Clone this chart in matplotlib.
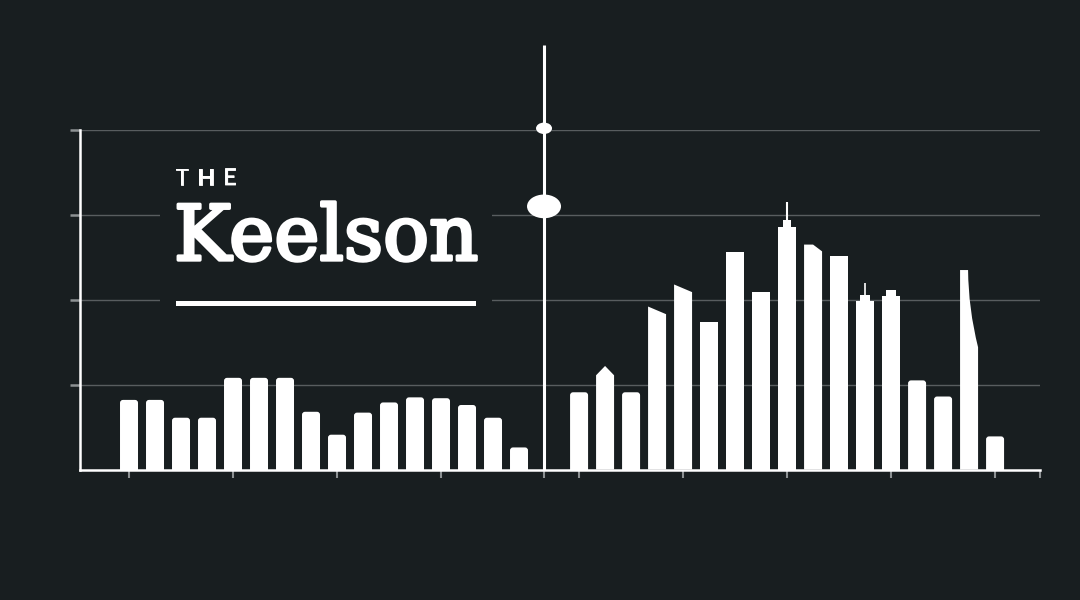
import numpy as np
import matplotlib.pyplot as plt
from matplotlib.patches import FancyBboxPatch, Rectangle, Polygon, Ellipse, PathPatch
from matplotlib.path import Path
import matplotlib.patheffects as pe

# Colours
BG = '#181e20'
GRID = '#585d5f'
TICK = '#8c9193'
FG = '#ffffff'

# Left group of bars (before the mast)
left_vals = [0.82, 0.82, 0.61, 0.61, 1.08, 1.08, 1.08, 0.68,
             0.41, 0.67, 0.79, 0.85, 0.84, 0.76, 0.61, 0.26]

# Right group of bars (the "skyline")
right_vals = [0.91, 1.11, 0.91, 1.83, 2.09, 1.74, 2.56, 2.09,
              2.86, 2.65, 2.51, 1.99, 2.04, 1.05, 0.86, 2.35, 0.39]
right_tops = ['round', 'peak', 'round', 'slant', 'slant', 'flat', 'flat', 'flat',
              'spire', 'chamfer', 'flat', 'mast', 'step', 'round', 'round', 'bow', 'round']
# secondary heights for the shaped tops (peak / slant left edge / step / antenna / shoulder)
right_extra = [None, 1.22, None, 1.92, 2.18, None, None, None,
               (2.94, 3.15), 2.57, None, (2.06, 2.20), 2.11, None, None, 1.44, None]

# Mast with two floats
mast_top = 5.0
float_small_y = 4.02
float_big_y = 3.10

y_ticks = [1, 2, 3, 4]

# layout helpers (1 x-unit = 26 px, 1 y-unit = ~85 px)
PX_X = 1 / 26
PX_Y = 4 / 339.5
HALF_W = 9 * PX_X
RIGHT_OFFSET = 17.31
MAST_X = 15.962

left_x = np.arange(len(left_vals))
right_x = RIGHT_OFFSET + np.arange(len(right_vals))

fig = plt.figure(figsize=(10.8, 6), dpi=100, facecolor=BG)
ax = fig.add_axes([80 / 1080, 130.5 / 600, 960 / 1080, 339.5 / 600])
ax.set_facecolor(BG)
ax.set_xlim(-1.885, 35.038)
ax.set_ylim(0, 4)


def rounded_bar(xc, h):
    r = 3 * PX_X
    p = FancyBboxPatch((xc - HALF_W, -0.1), 2 * HALF_W, h + 0.1,
                       boxstyle=f"round,pad=0,rounding_size={r}",
                       mutation_aspect=PX_Y / PX_X, fc=FG, ec='none', zorder=2)
    ax.add_patch(p)


def flat_bar(xc, h, w=HALF_W):
    ax.add_patch(Rectangle((xc - w, 0), 2 * w, h, fc=FG, ec='none', zorder=2))


for x, h in zip(left_x, left_vals):
    rounded_bar(x, h)

for x, h, top, ex in zip(right_x, right_vals, right_tops, right_extra):
    l, r = x - HALF_W, x + HALF_W
    if top == 'round':
        rounded_bar(x, h)
    elif top == 'flat':
        flat_bar(x, h)
    elif top == 'peak':
        ax.add_patch(Polygon([(l, 0), (l, h), (x, ex), (r, h), (r, 0)], fc=FG, ec='none', zorder=2))
    elif top == 'slant':
        ax.add_patch(Polygon([(l, 0), (l, ex), (r, h), (r, 0)], fc=FG, ec='none', zorder=2))
    elif top == 'chamfer':
        ax.add_patch(Polygon([(l, 0), (l, h), (x, h), (r, ex), (r, 0)], fc=FG, ec='none', zorder=2))
    elif top == 'spire':
        flat_bar(x, h)
        flat_bar(x, ex[0], w=4 * PX_X)
        ax.plot([x, x], [ex[0], ex[1]], color=FG, lw=1.5, solid_capstyle='butt', zorder=2)
    elif top == 'mast':
        flat_bar(x, h)
        flat_bar(x, ex[0], w=5 * PX_X)
        ax.plot([x, x], [ex[0], ex[1]], color=FG, lw=1.2, solid_capstyle='butt', zorder=2)
    elif top == 'step':
        flat_bar(x, h)
        flat_bar(x, ex, w=5 * PX_X)
    elif top == 'bow':
        tr = l + 8 * PX_X
        verts = [(l, 0), (l, h), (tr, h), (tr + 0.3 * PX_X, ex + 0.5 * (h - ex)), (r, ex), (r, 0), (l, 0)]
        codes = [Path.MOVETO, Path.LINETO, Path.LINETO, Path.CURVE3, Path.CURVE3, Path.LINETO, Path.CLOSEPOLY]
        ax.add_patch(PathPatch(Path(verts, codes), fc=FG, ec='none', zorder=2))

# Mast and its floats
ax.plot([MAST_X, MAST_X], [0, mast_top], color=FG, lw=2.2, solid_capstyle='butt', clip_on=False, zorder=3)
ax.add_patch(Ellipse((MAST_X, float_small_y), 16 * PX_X, 11.4 * PX_Y, fc=FG, ec='none', clip_on=False, zorder=3))
ax.add_patch(Ellipse((MAST_X, float_big_y), 34 * PX_X, 23.7 * PX_Y, fc=FG, ec='none', clip_on=False, zorder=3))

# Axes styling
ax.set_yticks(y_ticks)
x_ticks = list(left_x[::4]) + [MAST_X] + list(right_x[::4]) + [35.038]
ax.set_xticks(x_ticks)
ax.tick_params(axis='x', length=6, width=1.5, color=TICK, labelbottom=False)
ax.tick_params(axis='y', length=7, width=1.8, color=TICK, labelleft=False)
ax.grid(axis='y', color=GRID, linewidth=1)
ax.set_axisbelow(True)
for s in ['top', 'right']:
    ax.spines[s].set_visible(False)
for s in ['left', 'bottom']:
    ax.spines[s].set_color(FG)
    ax.spines[s].set_linewidth(1.8)

# Plate behind the wordmark (interrupts the gridlines)
ax.add_patch(Rectangle((80 / 960, 0.44), 332 / 960, 0.53, transform=ax.transAxes,
                       fc=BG, ec='none', zorder=1))

# Wordmark
for letter, px in zip("THE", [182, 206, 230]):
    fig.text(px / 1080, 1 - 185 / 600, letter, ha='center', va='baseline',
             fontsize=16.5, family='Lato', color=FG,
             path_effects=[pe.withStroke(linewidth=0.6, foreground=FG)])
fig.text(174 / 1080, 1 - 260 / 600, "Keelson", ha='left', va='baseline',
         fontsize=55, family='DejaVu Serif', color=FG,
         path_effects=[pe.withStroke(linewidth=2.4, foreground=FG)])
fig.add_artist(Rectangle((176 / 1080, 1 - 306 / 600), 300 / 1080, 5 / 600,
                         transform=fig.transFigure, fc=FG, ec='none'))

plt.savefig('out.png', dpi=100, facecolor=BG)
